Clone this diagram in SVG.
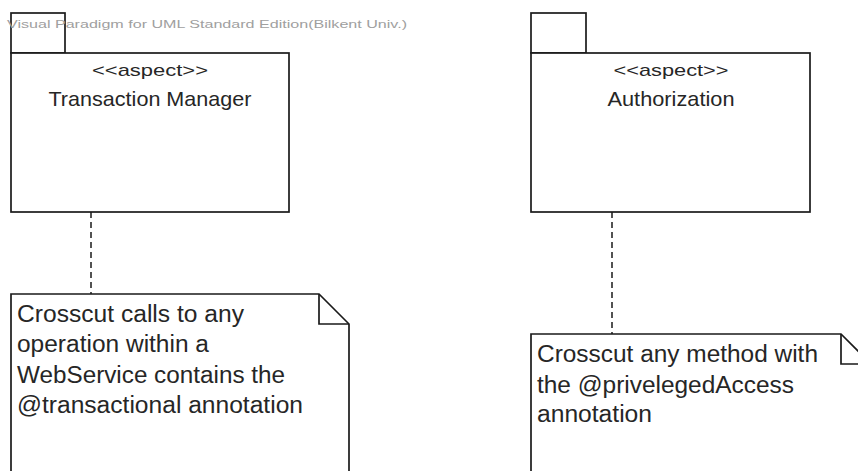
<svg xmlns="http://www.w3.org/2000/svg" width="858" height="471" viewBox="0 0 858 471">
  <style>
    .shape { fill: #ffffff; stroke: #1a1a1a; stroke-width: 1.7; }
    .fold { fill: none; stroke: #1a1a1a; stroke-width: 1.7; }
    .link { fill: none; stroke: #1a1a1a; stroke-width: 1.5; stroke-dasharray: 6 4; }
    .stereo { font-family: "Liberation Sans", Arial, sans-serif; font-size: 17px; fill: #262626; text-anchor: middle; }
    .name { font-family: "Liberation Sans", Arial, sans-serif; font-size: 21px; fill: #262626; text-anchor: middle; }
    .note { font-family: "Liberation Sans", Arial, sans-serif; font-size: 23px; fill: #262626; }
    .mark { font-family: "Liberation Sans", Arial, sans-serif; font-size: 11.5px; fill: #a0a0a0; }
  </style>
  <rect width="858" height="471" fill="#ffffff"/>

  <!-- dashed anchors from each aspect to its note -->
  <g id="connectors">
    <line class="link" x1="91" y1="212" x2="91" y2="294"/>
    <line class="link" x1="612" y1="212" x2="612" y2="334"/>
  </g>

  <!-- aspect package: Transaction Manager -->
  <g id="pkg-transaction-manager">
    <rect class="shape" x="11" y="13" width="54" height="40"/>
    <rect class="shape" x="11" y="53" width="278" height="159"/>
    <text class="stereo" x="150" y="76" textLength="116" lengthAdjust="spacingAndGlyphs">&lt;&lt;aspect&gt;&gt;</text>
    <text class="name" x="150" y="106" textLength="203" lengthAdjust="spacingAndGlyphs">Transaction Manager</text>
  </g>

  <!-- aspect package: Authorization -->
  <g id="pkg-authorization">
    <rect class="shape" x="531" y="13" width="55" height="40"/>
    <rect class="shape" x="531" y="53" width="279" height="159"/>
    <text class="stereo" x="671" y="76" textLength="115" lengthAdjust="spacingAndGlyphs">&lt;&lt;aspect&gt;&gt;</text>
    <text class="name" x="671" y="106" textLength="127" lengthAdjust="spacingAndGlyphs">Authorization</text>
  </g>

  <!-- note attached to Transaction Manager -->
  <g id="note-transactional">
    <path class="shape" d="M11,294 H319 L349,324 V490 H11 Z"/>
    <path class="fold" d="M319,294 V324 H349"/>
    <text class="note" x="17" y="322" textLength="227" lengthAdjust="spacingAndGlyphs">Crosscut calls to any</text>
    <text class="note" x="17" y="352" textLength="192" lengthAdjust="spacingAndGlyphs">operation within a</text>
    <text class="note" x="17" y="383" textLength="268" lengthAdjust="spacingAndGlyphs">WebService contains the</text>
    <text class="note" x="17" y="413" textLength="286" lengthAdjust="spacingAndGlyphs">@transactional annotation</text>
  </g>

  <!-- note attached to Authorization -->
  <g id="note-privileged">
    <path class="shape" d="M531,334 H841 L871,364 V490 H531 Z"/>
    <path class="fold" d="M841,334 V364 H871"/>
    <text class="note" x="537" y="362" textLength="281" lengthAdjust="spacingAndGlyphs">Crosscut any method with</text>
    <text class="note" x="537" y="393" textLength="257" lengthAdjust="spacingAndGlyphs">the @privelegedAccess</text>
    <text class="note" x="537" y="422" textLength="115" lengthAdjust="spacingAndGlyphs">annotation</text>
  </g>

  <!-- editor watermark -->
  <text class="mark" x="7" y="28" textLength="400" lengthAdjust="spacingAndGlyphs">Visual Paradigm for UML Standard Edition(Bilkent Univ.)</text>
</svg>
